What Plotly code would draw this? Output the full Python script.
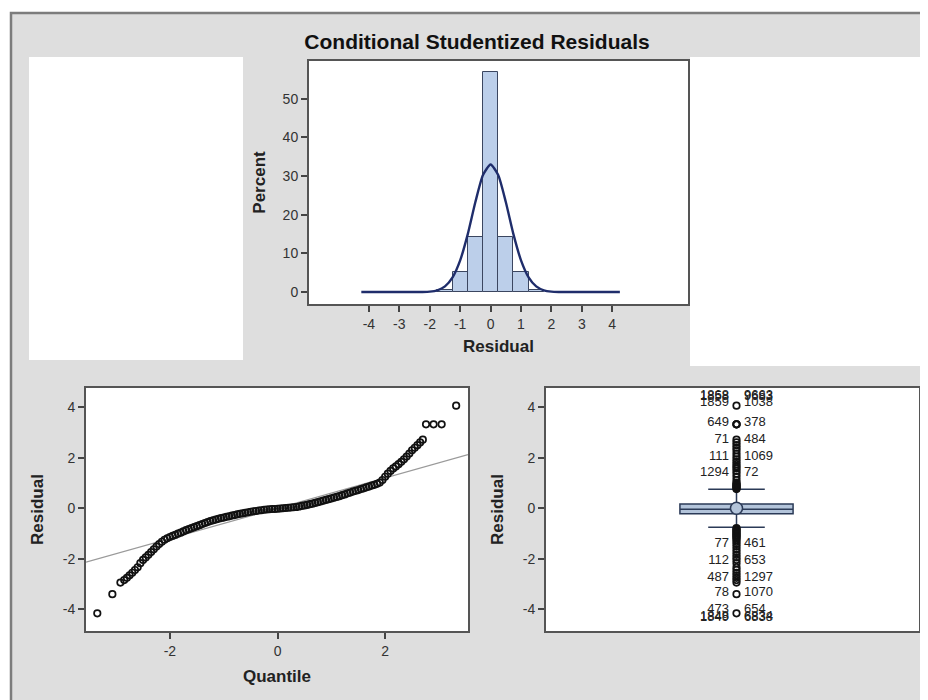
import plotly.graph_objects as go

PAGE_OFF = 8          # browser body margin
W, H = 928 - PAGE_OFF, 700 - PAGE_OFF
FONT = "Liberation Sans, Arial, sans-serif"

# ---------------- data ----------------
# Histogram of conditional studentized residuals (bin midpoints, percent)
hist_mid = [-1.5, -1.0, -0.5, 0.0, 0.5, 1.0, 1.5]
hist_pct = [0.6, 5.1, 14.2, 56.9, 14.2, 5.1, 0.6]
bin_width = 0.5
hist_ticks = [-4, -3, -2, -1, 0, 1, 2, 3, 4]
hist_ticktext = ["-4", "-3", "-2", "-1", "0", "1", "2", "3", "4"]
pct_ticks = [0, 10, 20, 30, 40, 50]

# Fitted normal curve
curve_x = [-4.25, -4.0, -3.75, -3.5, -3.25, -3.0, -2.75, -2.5, -2.25, -2.0, -1.75, -1.5,
           -1.25, -1.0, -0.75, -0.5, -0.25, 0.0, 0.25, 0.5, 0.75, 1.0, 1.25, 1.5, 1.75,
           2.0, 2.25, 2.5, 2.75, 3.0, 3.25, 3.5, 3.75, 4.0, 4.25]
curve_pct = [0, 0, 0, 0, 0, 0, 0, 0, 0.02, 0.1, 0.45, 1.45,
             3.8, 8.2, 15.0, 23.3, 30.3, 33.0, 30.3, 23.3, 15.0, 8.2, 3.8, 1.45, 0.45,
             0.1, 0.02, 0, 0, 0, 0, 0, 0, 0, 0]

# Q-Q plot: normal quantile vs residual
qq_quantile = [-3.35, -3.07, -2.92, -2.85, -2.80, -2.75, -2.70, -2.65, -2.60, -2.55, -2.50,
               -2.45, -2.40, -2.35, -2.30, -2.25, -2.20, -2.15, -2.10, -2.05, -2.00, -1.95,
               -1.90, -1.85, -1.80, -1.75, -1.70, -1.65, -1.60, -1.55, -1.50, -1.45, -1.40,
               -1.35, -1.30, -1.25, -1.20, -1.15, -1.10, -1.05, -1.00, -0.95, -0.90, -0.85,
               -0.80, -0.75, -0.70, -0.65, -0.60, -0.55, -0.50, -0.45, -0.40, -0.35, -0.30,
               -0.25, -0.20, -0.15, -0.10, -0.05, 0.00, 0.05, 0.10, 0.15, 0.20, 0.25, 0.30,
               0.35, 0.40, 0.45, 0.50, 0.55, 0.60, 0.65, 0.70, 0.75, 0.80, 0.85, 0.90, 0.95,
               1.00, 1.05, 1.10, 1.15, 1.20, 1.25, 1.30, 1.35, 1.40, 1.45, 1.50, 1.55, 1.60,
               1.65, 1.70, 1.75, 1.80, 1.85, 1.90, 1.95, 2.00, 2.05, 2.10, 2.15, 2.20, 2.25,
               2.30, 2.35, 2.40, 2.45, 2.50, 2.55, 2.60, 2.65, 2.70, 2.76, 2.90, 3.05, 3.32]
qq_residual = [-4.17, -3.41, -2.95, -2.85, -2.76, -2.66, -2.56, -2.45, -2.34, -2.18, -2.05,
               -1.95, -1.85, -1.74, -1.63, -1.52, -1.42, -1.33, -1.25, -1.19, -1.14, -1.10,
               -1.06, -1.01, -0.97, -0.92, -0.87, -0.83, -0.79, -0.75, -0.71, -0.67, -0.63,
               -0.59, -0.55, -0.51, -0.48, -0.45, -0.42, -0.39, -0.37, -0.34, -0.32, -0.29,
               -0.27, -0.24, -0.22, -0.20, -0.18, -0.16, -0.14, -0.12, -0.11, -0.09, -0.08,
               -0.06, -0.05, -0.04, -0.03, -0.03, -0.02, -0.01, 0.00, 0.01, 0.02, 0.03, 0.04,
               0.05, 0.07, 0.09, 0.11, 0.13, 0.16, 0.18, 0.21, 0.24, 0.27, 0.30, 0.33, 0.36,
               0.39, 0.42, 0.45, 0.48, 0.52, 0.55, 0.59, 0.62, 0.66, 0.69, 0.72, 0.76, 0.79,
               0.83, 0.86, 0.90, 0.93, 0.97, 1.02, 1.12, 1.25, 1.37, 1.48, 1.58, 1.66, 1.75,
               1.84, 1.94, 2.05, 2.17, 2.30, 2.40, 2.50, 2.61, 2.72, 3.33, 3.33, 3.33, 4.07]
qq_xticks = [-2, 0, 2]
qq_xticktext = ["-2", "0", "2"]
res_ticks = [-4, -2, 0, 2, 4]
res_ticktext = ["-4", "-2", "0", "2", "4"]
ref_mean = 0.0
ref_sd = 0.6

# Box plot summary
box_q1 = -0.22
box_median = -0.04
box_q3 = 0.17
box_mean = 0.0
box_low_whisker = -0.75
box_high_whisker = 0.75

# Observation labels of extreme values
left_labels = ["1868", "1858", "1859", "649", "71", "111", "1294",
               "77", "112", "487", "78", "473", "1848", "1849"]
left_label_y = [4.47, 4.43, 4.19, 3.40, 2.71, 2.05, 1.39,
                -1.42, -2.08, -2.74, -3.37, -4.04, -4.31, -4.35]
right_labels = ["9663", "9683", "1038", "378", "484", "1069", "72",
                "461", "653", "1297", "1070", "654", "6834", "6838"]
right_label_y = [4.47, 4.43, 4.19, 3.40, 2.71, 2.05, 1.39,
                 -1.42, -2.08, -2.74, -3.37, -4.04, -4.31, -4.35]

# ---------------- figure ----------------
def px_x(v):
    return (v - PAGE_OFF) / W

def px_y(v):
    return 1 - (v - PAGE_OFF) / H

NAVY = "#1f2d6b"
BAR_FILL = "#bccfea"
BAR_LINE = "#3b4660"
AXIS = "#555555"

fig = go.Figure()

# Histogram
fig.add_trace(go.Bar(x=hist_mid, y=hist_pct, width=bin_width,
                     marker=dict(color=BAR_FILL, line=dict(color=BAR_LINE, width=1)),
                     xaxis="x", yaxis="y", showlegend=False, hoverinfo="x+y"))
fig.add_trace(go.Scatter(x=curve_x, y=curve_pct, mode="lines",
                         line=dict(color=NAVY, width=2.4, shape="spline", smoothing=0.6),
                         xaxis="x", yaxis="y", showlegend=False))

# Q-Q plot
qx_range = [-3.56, 3.54]
fig.add_trace(go.Scatter(x=qx_range, y=[ref_mean + ref_sd * q for q in qx_range], mode="lines",
                         line=dict(color="#9a9a9a", width=1.2),
                         xaxis="x2", yaxis="y2", showlegend=False))
fig.add_trace(go.Scatter(x=qq_quantile, y=qq_residual, mode="markers",
                         marker=dict(symbol="circle-open", size=6.5, color="#111111",
                                     line=dict(width=1.7)),
                         xaxis="x2", yaxis="y2", showlegend=False))

# Box plot (panel spans 546..927 px in the page; right part is clipped by the viewport)
BOX_PANEL_L, BOX_PANEL_R, BOX_VISIBLE_R = 546, 927, 919
box_xmax = (BOX_VISIBLE_R - BOX_PANEL_L) / (BOX_PANEL_R - BOX_PANEL_L)
BOX_X = 0.5
fig.add_trace(go.Box(x=[BOX_X], q1=[box_q1], median=[box_median], q3=[box_q3],
                     lowerfence=[box_low_whisker], upperfence=[box_high_whisker],
                     width=0.297, whiskerwidth=0.5, boxpoints=False,
                     fillcolor="#b3c4da", line=dict(color="#2b3a57", width=1.5),
                     xaxis="x3", yaxis="y3", showlegend=False))
outliers = [r for r in qq_residual if r > box_high_whisker or r < box_low_whisker]
fig.add_trace(go.Scatter(x=[BOX_X] * len(outliers), y=outliers, mode="markers",
                         marker=dict(symbol="circle-open", size=6.5, color="#111111",
                                     line=dict(width=1.7)),
                         xaxis="x3", yaxis="y3", showlegend=False))
fig.add_trace(go.Scatter(x=[BOX_X], y=[box_mean], mode="markers",
                         marker=dict(symbol="circle", size=12, color="#b3c4da",
                                     line=dict(color="#2b3a57", width=1.5)),
                         xaxis="x3", yaxis="y3", showlegend=False))
LBL_OFF = 0.02
fig.add_trace(go.Scatter(x=[BOX_X - LBL_OFF] * len(left_labels), y=left_label_y,
                         text=left_labels, mode="text", textposition="middle left",
                         textfont=dict(family=FONT, size=13, color="#222222"),
                         xaxis="x3", yaxis="y3", showlegend=False))
fig.add_trace(go.Scatter(x=[BOX_X + LBL_OFF] * len(right_labels), y=right_label_y,
                         text=right_labels, mode="text", textposition="middle right",
                         textfont=dict(family=FONT, size=13, color="#222222"),
                         xaxis="x3", yaxis="y3", showlegend=False))

tickfont = dict(family=FONT, size=14, color="#333333")
titlefont = dict(family=FONT, size=17, color="#222222")

def axis(domain, rng, tickvals=None, ticktext=None, title=None, standoff=8, show=True):
    d = dict(domain=domain, range=rng, showgrid=False, zeroline=False,
             showline=True, mirror=True, linecolor=AXIS, linewidth=2,
             tickfont=tickfont)
    if show:
        d.update(tickvals=tickvals, ticktext=ticktext, ticks="outside", ticklen=6,
                 tickwidth=1.5, tickcolor="#444444")
    else:
        d.update(showticklabels=False, ticks="")
    if title:
        d["title"] = dict(text="<b>%s</b>" % title, font=titlefont, standoff=standoff)
    return d

hist_xd = [px_x(309), px_x(688)]
hist_yd = [px_y(304), px_y(61)]
qq_xd = [px_x(86), px_x(468)]
low_yd = [px_y(631), px_y(388)]
box_xd = [px_x(BOX_PANEL_L), px_x(BOX_VISIBLE_R)]

fig.update_layout(
    width=W, height=H,
    margin=dict(l=0, r=0, t=0, b=0),
    paper_bgcolor="white", plot_bgcolor="rgba(0,0,0,0)",
    font=dict(family=FONT),
    showlegend=False,
    bargap=0,
    title=dict(text="<b>Conditional Studentized Residuals</b>",
               x=px_x(477), y=px_y(42), xanchor="center", yanchor="middle",
               xref="paper", yref="paper",
               font=dict(family=FONT, size=21, color="#111111")),
    xaxis=axis(hist_xd, [-5.97, 6.49], hist_ticks, hist_ticktext, "Residual", 9),
    yaxis=axis(hist_yd, [-3.1, 59.8], pct_ticks, [str(v) for v in pct_ticks], "Percent", 13),
    xaxis2=dict(axis(qq_xd, [-3.56, 3.54], qq_xticks, qq_xticktext, "Quantile", 12),
                anchor="y2"),
    yaxis2=dict(axis(low_yd, [-4.87, 4.77], res_ticks, res_ticktext, "Residual", 15),
                anchor="x2"),
    xaxis3=dict(axis(box_xd, [0, box_xmax], show=False), anchor="y3"),
    yaxis3=dict(axis(low_yd, [-4.87, 4.77], res_ticks, res_ticktext, "Residual", 15),
                anchor="x3"),
)

shapes = [
    # gray frame background
    dict(type="rect", xref="paper", yref="paper", layer="below",
         x0=px_x(11), x1=px_x(940), y0=px_y(720), y1=px_y(13),
         fillcolor="#dedede", line=dict(color="#7c7c7c", width=2.5)),
    # empty white panels
    dict(type="rect", xref="paper", yref="paper", layer="below",
         x0=px_x(29), x1=px_x(243), y0=px_y(360), y1=px_y(57),
         fillcolor="white", line=dict(width=0)),
    dict(type="rect", xref="paper", yref="paper", layer="below",
         x0=px_x(690), x1=px_x(922), y0=px_y(366), y1=px_y(57),
         fillcolor="white", line=dict(width=0)),
]
for xd, yd in [(hist_xd, hist_yd), (qq_xd, low_yd), (box_xd, low_yd)]:
    shapes.append(dict(type="rect", xref="paper", yref="paper", layer="below",
                       x0=xd[0], x1=xd[1], y0=yd[0], y1=yd[1],
                       fillcolor="white", line=dict(width=0)))
fig.update_layout(shapes=shapes)

fig.write_html("out.html")
